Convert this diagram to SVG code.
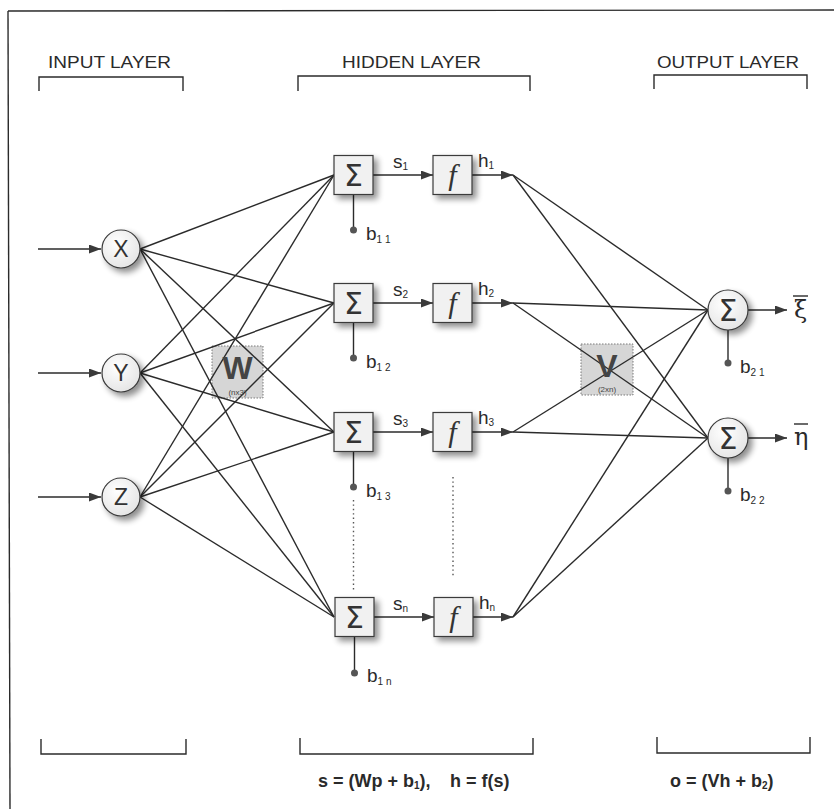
<svg xmlns="http://www.w3.org/2000/svg" width="834" height="809" viewBox="0 0 834 809">
  <defs>
    <filter id="shadow" x="-40%" y="-40%" width="190%" height="190%">
      <feGaussianBlur in="SourceAlpha" stdDeviation="3"/>
      <feOffset dx="4" dy="4" result="b"/>
      <feComponentTransfer><feFuncA type="linear" slope="0.45"/></feComponentTransfer>
      <feMerge><feMergeNode/><feMergeNode in="SourceGraphic"/></feMerge>
    </filter>
    <radialGradient id="ball" cx="40%" cy="35%" r="70%">
      <stop offset="0" stop-color="#ffffff"/>
      <stop offset="1" stop-color="#e4e4e4"/>
    </radialGradient>
    <marker id="arrow" markerWidth="13" markerHeight="10" refX="12" refY="4.5" orient="auto" markerUnits="userSpaceOnUse">
      <path d="M0,0 L12,4.5 L0,9 z" fill="#3a3a3a"/>
    </marker>
  </defs>
  <style>
    .ln { stroke: #2b2b2b; stroke-width: 1.4; fill: none; }
    .ar { stroke: #2b2b2b; stroke-width: 1.5; fill: none; marker-end: url(#arrow); }
    .dot { stroke: #555; stroke-width: 1.4; stroke-dasharray: 1.4 3; fill: none; }
    .box { fill: #f1f1f1; stroke: #3a3a3a; stroke-width: 1.2; filter: url(#shadow); }
    .circ { fill: url(#ball); stroke: #3a3a3a; stroke-width: 1.2; filter: url(#shadow); }
    .mat { fill: #cfcfcf; fill-opacity: 0.85; stroke: #7a7a7a; stroke-width: 1; stroke-dasharray: 1.5 1.5; }
    .hdr { font-family: "Liberation Sans", Arial, sans-serif; font-size: 17px; fill: #2a2a2a; }
    .sym { font-family: "DejaVu Sans", sans-serif; font-size: 30px; fill: #333; text-anchor: middle; }
    .fn { font-family: "Liberation Serif", serif; font-style: italic; font-size: 30px; fill: #333; text-anchor: middle; }
    .var { font-family: "Liberation Sans", Arial, sans-serif; font-size: 23px; fill: #333; text-anchor: middle; }
    .lbl { font-family: "Liberation Sans", Arial, sans-serif; font-size: 19px; fill: #2a2a2a; }
    .sub { font-size: 10px; }
    .greek { font-family: "DejaVu Serif", serif; font-size: 24px; fill: #2a2a2a; }
    .eq { font-family: "Liberation Sans", Arial, sans-serif; font-weight: bold; font-size: 18px; fill: #2a2a2a; }
    .big { font-family: "Liberation Sans", Arial, sans-serif; font-weight: bold; font-size: 32px; fill: #444; text-anchor: middle; }
    .tiny { font-family: "Liberation Sans", Arial, sans-serif; font-size: 8px; fill: #444; text-anchor: middle; }
    .bdot { fill: #555; }
  </style>

  <rect width="834" height="809" fill="#ffffff"/>

  <!-- frame -->
  <g id="frame">
    <line class="ln" x1="8" y1="11" x2="834" y2="10"/>
    <line class="ln" x1="8" y1="11" x2="10" y2="809"/>
  </g>

  <!-- layer headings and brackets -->
  <g id="headings">
    <text class="hdr" x="48" y="68" textLength="123" lengthAdjust="spacingAndGlyphs">INPUT LAYER</text>
    <text class="hdr" x="342" y="68" textLength="139" lengthAdjust="spacingAndGlyphs">HIDDEN LAYER</text>
    <text class="hdr" x="657" y="68" textLength="142" lengthAdjust="spacingAndGlyphs">OUTPUT LAYER</text>
    <path class="ln" stroke-width="2" d="M39,91 V77 H183 V91"/>
    <path class="ln" stroke-width="2" d="M298,91 V76 H530 V91"/>
    <path class="ln" stroke-width="2" d="M654,89 V75 H807 V89"/>
    <path class="ln" stroke-width="2" d="M41,739 V754 H186 V739"/>
    <path class="ln" stroke-width="2" d="M300,738 V754 H533 V738"/>
    <path class="ln" stroke-width="2" d="M657,737 V753 H810 V737"/>
  </g>

  <!-- weight matrices (drawn beneath the weight lines) -->
  <g id="W">
    <rect class="mat" x="212" y="346" width="51" height="52"/>
  </g>
  <g id="V">
    <rect class="mat" x="581" y="344" width="52" height="51"/>
  </g>

  <!-- connectors -->
  <g id="connectors">
    <!-- inputs to summing junctions -->
    <line class="ln" x1="140" y1="249" x2="334" y2="175"/>
    <line class="ln" x1="140" y1="249" x2="334" y2="303"/>
    <line class="ln" x1="140" y1="249" x2="334" y2="432"/>
    <line class="ln" x1="140" y1="249" x2="334" y2="617"/>
    <line class="ln" x1="140" y1="373" x2="334" y2="175"/>
    <line class="ln" x1="140" y1="373" x2="334" y2="303"/>
    <line class="ln" x1="140" y1="373" x2="334" y2="432"/>
    <line class="ln" x1="140" y1="373" x2="334" y2="617"/>
    <line class="ln" x1="140" y1="497" x2="334" y2="175"/>
    <line class="ln" x1="140" y1="497" x2="334" y2="303"/>
    <line class="ln" x1="140" y1="497" x2="334" y2="432"/>
    <line class="ln" x1="140" y1="497" x2="334" y2="617"/>
    <!-- hidden outputs to output summing nodes -->
    <line class="ln" x1="513" y1="175" x2="708" y2="310"/>
    <line class="ln" x1="513" y1="175" x2="708" y2="438"/>
    <line class="ln" x1="513" y1="303" x2="708" y2="310"/>
    <line class="ln" x1="513" y1="303" x2="708" y2="438"/>
    <line class="ln" x1="513" y1="432" x2="708" y2="310"/>
    <line class="ln" x1="513" y1="432" x2="708" y2="438"/>
    <line class="ln" x1="513" y1="617" x2="708" y2="310"/>
    <line class="ln" x1="513" y1="617" x2="708" y2="438"/>
    <!-- input arrows -->
    <line class="ar" x1="38" y1="249" x2="101" y2="249"/>
    <line class="ar" x1="38" y1="373" x2="101" y2="373"/>
    <line class="ar" x1="38" y1="497" x2="101" y2="497"/>
    <!-- sum to activation -->
    <line class="ar" x1="373" y1="175" x2="433" y2="175"/>
    <line class="ar" x1="373" y1="303" x2="433" y2="303"/>
    <line class="ar" x1="373" y1="432" x2="433" y2="432"/>
    <line class="ar" x1="374" y1="617" x2="434" y2="617"/>
    <!-- activation outputs -->
    <line class="ar" x1="472" y1="175" x2="513" y2="175"/>
    <line class="ar" x1="472" y1="303" x2="513" y2="303"/>
    <line class="ar" x1="472" y1="432" x2="513" y2="432"/>
    <line class="ar" x1="473" y1="617" x2="513" y2="617"/>
    <!-- network outputs -->
    <line class="ar" x1="748" y1="310" x2="787" y2="310"/>
    <line class="ar" x1="748" y1="438" x2="787" y2="438"/>
    <!-- bias inputs -->
    <line class="ln" x1="353.5" y1="194" x2="353.5" y2="230"/>
    <line class="ln" x1="353.5" y1="322" x2="353.5" y2="358"/>
    <line class="ln" x1="353.5" y1="451" x2="353.5" y2="487"/>
    <line class="ln" x1="354.5" y1="636" x2="354.5" y2="673"/>
    <line class="ln" x1="728" y1="330" x2="728" y2="363"/>
    <line class="ln" x1="728" y1="458" x2="728" y2="491"/>
    <circle class="bdot" cx="353.5" cy="230" r="3.5"/>
    <circle class="bdot" cx="353.5" cy="358" r="3.5"/>
    <circle class="bdot" cx="353.5" cy="487" r="3.5"/>
    <circle class="bdot" cx="354.5" cy="673" r="3.5"/>
    <circle class="bdot" cx="728" cy="363" r="3.5"/>
    <circle class="bdot" cx="728" cy="491" r="3.5"/>
    <!-- elision of hidden neurons -->
    <line class="dot" x1="353.5" y1="500" x2="353.5" y2="590"/>
    <line class="dot" x1="453" y1="477" x2="453" y2="576"/>
  </g>

  <!-- matrix labels over the lines -->
  <g id="W-label">
    <text class="big" x="237.5" y="379">W</text>
    <text class="tiny" x="237.5" y="395">(nx3)</text>
  </g>
  <g id="V-label">
    <text class="big" x="607" y="377">V</text>
    <text class="tiny" x="607" y="392">(2xn)</text>
  </g>

  <!-- input nodes -->
  <g id="in-X"><circle class="circ" cx="121" cy="249" r="19"/><text class="var" x="121" y="257">X</text></g>
  <g id="in-Y"><circle class="circ" cx="121" cy="373" r="19"/><text class="var" x="121" y="381">Y</text></g>
  <g id="in-Z"><circle class="circ" cx="121" cy="497" r="19"/><text class="var" x="121" y="505">Z</text></g>

  <!-- hidden summing junctions -->
  <g id="sum-1"><rect class="box" x="334" y="155.5" width="39" height="39"/><text class="sym" x="353.5" y="186">Σ</text></g>
  <g id="sum-2"><rect class="box" x="334" y="283.5" width="39" height="39"/><text class="sym" x="353.5" y="314">Σ</text></g>
  <g id="sum-3"><rect class="box" x="334" y="412.5" width="39" height="39"/><text class="sym" x="353.5" y="443">Σ</text></g>
  <g id="sum-n"><rect class="box" x="335" y="597.5" width="39" height="39"/><text class="sym" x="354.5" y="628">Σ</text></g>

  <!-- activation functions -->
  <g id="f-1"><rect class="box" x="433" y="155.5" width="39" height="39"/><text class="fn" x="452.5" y="185">f</text></g>
  <g id="f-2"><rect class="box" x="433" y="283.5" width="39" height="39"/><text class="fn" x="452.5" y="313">f</text></g>
  <g id="f-3"><rect class="box" x="433" y="412.5" width="39" height="39"/><text class="fn" x="452.5" y="442">f</text></g>
  <g id="f-n"><rect class="box" x="434" y="597.5" width="39" height="39"/><text class="fn" x="453.5" y="627">f</text></g>

  <!-- output summing nodes -->
  <g id="out-1"><circle class="circ" cx="728" cy="310" r="20"/><text class="sym" x="728" y="321">Σ</text></g>
  <g id="out-2"><circle class="circ" cx="728" cy="438" r="20"/><text class="sym" x="728" y="449">Σ</text></g>

  <!-- signal labels -->
  <g id="labels">
    <text class="lbl" x="393" y="168">s<tspan class="sub" dy="2">1</tspan></text>
    <text class="lbl" x="393" y="296">s<tspan class="sub" dy="2">2</tspan></text>
    <text class="lbl" x="393" y="425">s<tspan class="sub" dy="2">3</tspan></text>
    <text class="lbl" x="393" y="610">s<tspan class="sub" dy="2">n</tspan></text>
    <text class="lbl" x="478" y="167">h<tspan class="sub" dy="2">1</tspan></text>
    <text class="lbl" x="478" y="295">h<tspan class="sub" dy="2">2</tspan></text>
    <text class="lbl" x="478" y="424">h<tspan class="sub" dy="2">3</tspan></text>
    <text class="lbl" x="479" y="609">h<tspan class="sub" dy="2">n</tspan></text>
    <text class="lbl" x="366" y="240">b<tspan class="sub" dy="3">1 1</tspan></text>
    <text class="lbl" x="366" y="368">b<tspan class="sub" dy="3">1 2</tspan></text>
    <text class="lbl" x="366" y="497">b<tspan class="sub" dy="3">1 3</tspan></text>
    <text class="lbl" x="367" y="682">b<tspan class="sub" dy="3">1 n</tspan></text>
    <text class="lbl" x="740" y="373">b<tspan class="sub" dy="3">2 1</tspan></text>
    <text class="lbl" x="740" y="501">b<tspan class="sub" dy="3">2 2</tspan></text>
    <text class="greek" x="794" y="318">ξ</text>
    <line class="ln" x1="793" y1="296" x2="808" y2="296"/>
    <text class="greek" x="794" y="445">η</text>
    <line class="ln" x1="794" y1="424" x2="808" y2="424"/>
  </g>

  <!-- layer equations -->
  <g id="equations">
    <text class="eq" x="318" y="787">s = (Wp + b<tspan class="sub" dy="2">1</tspan><tspan dy="-2">),</tspan></text>
    <text class="eq" x="450" y="787">h = f(s)</text>
    <text class="eq" x="670" y="787">o = (Vh + b<tspan class="sub" dy="2">2</tspan><tspan dy="-2">)</tspan></text>
  </g>
</svg>
